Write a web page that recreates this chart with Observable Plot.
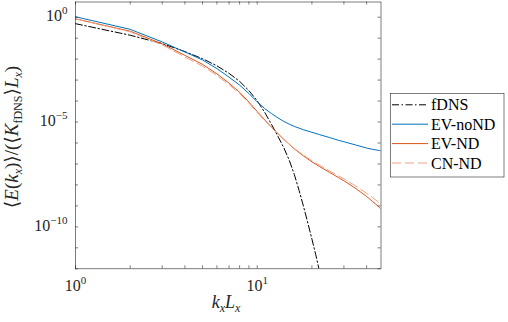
<!DOCTYPE html>
<html><head><meta charset="utf-8">
<script src="https://cdn.jsdelivr.net/npm/d3@7"></script>
<script src="https://cdn.jsdelivr.net/npm/@observablehq/plot@0.6"></script>
<style>
html,body{margin:0;padding:0;background:#fff;}
#chart{width:508px;height:322px;}
</style></head><body><div id="chart"></div>
<script>
// wavenumbers k_x L_x
const kx = [1,2,3,4,5,6,7,8,9,10,11,12,13,14,15,16,18,20,22,25,28,30,35,40,43,45,47,48];
const kxDNS = [1,2,3,4,5,6,7,8,9,10,11,12,13,14,15,16,17,18,19,20,21,22,23];
// log10 of normalised spectrum
const fDNS_log10   = [-0.31,-0.86,-1.26,-1.64,-1.98,-2.32,-2.68,-3.06,-3.50,-3.99,-4.54,-5.12,-5.68,-6.22,-6.82,-7.50,-8.26,-9.04,-9.82,-10.58,-11.33,-12.1,-12.9];
const EVnoND_log10 = [0.02,-0.58,-1.18,-1.66,-2.04,-2.45,-2.86,-3.24,-3.64,-4.04,-4.36,-4.60,-4.80,-4.97,-5.10,-5.21,-5.37,-5.49,-5.60,-5.74,-5.87,-5.94,-6.10,-6.24,-6.30,-6.33,-6.36,-6.37];
const EVND_log10   = [-0.08,-0.67,-1.27,-1.82,-2.25,-2.70,-3.15,-3.58,-4.05,-4.50,-4.90,-5.25,-5.55,-5.82,-6.06,-6.28,-6.62,-6.90,-7.12,-7.40,-7.65,-7.80,-8.18,-8.55,-8.78,-8.92,-9.07,-9.15];
const CNND_log10   = [-0.08,-0.70,-1.32,-1.90,-2.33,-2.78,-3.22,-3.64,-4.10,-4.55,-4.93,-5.27,-5.56,-5.82,-6.05,-6.26,-6.58,-6.85,-7.06,-7.33,-7.57,-7.71,-8.06,-8.40,-8.60,-8.72,-8.85,-8.93];
const seriesNames = ["fDNS","EV-noND","EV-ND","CN-ND"];
const xTickLabels = [1, 10];
const yTickLabels = [1, 1e-5, 1e-10];
const xTicks = [1,2,3,4,5,6,7,8,9,10,20,30,40];
const yTicks = [1e-12,1e-11,1e-10,1e-9,1e-8,1e-7,1e-6,1e-5,1e-4,1e-3,1e-2,1e-1,1];

const colors = {"fDNS":"#000000","EV-noND":"#0072BD","EV-ND":"#D95319","CN-ND":"#EFA384"};
const dashes = {"fDNS":"7,2.5,1.5,2.5","EV-noND":null,"EV-ND":null,"CN-ND":"9,4"};

const toRows = (ks, vals) => ks.map((k,i)=>({k, E: Math.pow(10, vals[i])}));
const data = {
  "fDNS": toRows(kxDNS, fDNS_log10),
  "EV-noND": toRows(kx, EVnoND_log10),
  "EV-ND": toRows(kx, EVND_log10),
  "CN-ND": toRows(kx, CNND_log10)
};

const W=508, H=322, mL=75, mR=127.5, mT=1.5, mB=53.7;
const plotW = W-mL-mR, plotH = H-mT-mB, tl = 3;
const axisColor = "#262626";
const serif = "'Liberation Serif', 'DejaVu Serif', serif";

const fmt = d => "10^" + Math.round(Math.log10(d));

const plot = Plot.plot({
  width: W, height: H,
  marginLeft: mL, marginRight: mR, marginTop: mT, marginBottom: mB,
  style: {fontFamily: serif, fontSize: "16px", color: axisColor, background: "white"},
  x: {type: "log", domain: [1, 48]},
  y: {type: "log", domain: [1e-12, 5.3]},
  marks: [
    ...seriesNames.map(s => Plot.line(data[s], {x: "k", y: "E", stroke: colors[s], strokeWidth: 1, strokeDasharray: dashes[s], clip: true})),
    Plot.tickX(xTicks, {x: d=>d, insetTop: plotH - tl, stroke: axisColor, strokeWidth: 0.6}),
    Plot.tickX(xTicks, {x: d=>d, insetBottom: plotH - tl, stroke: axisColor, strokeWidth: 0.6}),
    Plot.tickY(yTicks, {y: d=>d, insetRight: plotW - tl, stroke: axisColor, strokeWidth: 0.6}),
    Plot.tickY(yTicks, {y: d=>d, insetLeft: plotW - tl, stroke: axisColor, strokeWidth: 0.6}),
    Plot.frame({stroke: axisColor, strokeWidth: 0.6}),
    Plot.axisX(xTickLabels, {tickSize: 0, tickPadding: 11, tickFormat: fmt, label: null, fontSize: 16}),
    Plot.axisY(yTickLabels, {tickSize: 0, tickPadding: 8, tickFormat: fmt, label: null, fontSize: 16, dy: -1})
  ]
});
document.getElementById("chart").appendChild(plot);

const svg = d3.select(plot);
// superscripts in tick labels
svg.selectAll('g[aria-label="x-axis tick label"] text, g[aria-label="y-axis tick label"] text').each(function(){
  const t = this.textContent;
  const m = t.match(/^10\^(.+)$/);
  if (!m) return;
  this.textContent = "";
  const s = d3.select(this);
  s.append("tspan").text("10");
  s.append("tspan").attr("dy", -7).attr("font-size", 11).text(m[1].replace("-", "\u2212"));
});

// legend
const lg = svg.append("g").attr("font-family", serif).attr("font-size", 16).attr("text-anchor", "start");
lg.append("rect").attr("x", 390.5).attr("y", 93.5).attr("width", 113.5).attr("height", 83.5)
  .attr("fill", "white").attr("stroke", axisColor).attr("stroke-width", 0.6);
seriesNames.forEach((s, i) => {
  const y = 104.8 + 19.4*i;
  lg.append("line").attr("x1", 392).attr("x2", 428).attr("y1", y).attr("y2", y)
    .attr("stroke", colors[s]).attr("stroke-width", 1).attr("stroke-dasharray", dashes[s]);
  lg.append("text").attr("x", 431).attr("y", y + 5.5).attr("text-anchor", "start").attr("fill", "#000").text(s);
});

// axis labels
function addMath(textSel, parts) {
  parts.forEach(p => {
    const ts = textSel.append("tspan").text(p.t);
    if (p.i) ts.attr("font-style", "italic");
    if (p.sub) ts.attr("font-size", 12).attr("dy", 4);
    if (p.back) ts.attr("dy", -4);
  });
}
const xl = svg.append("text").attr("x", 226).attr("y", 308).attr("text-anchor", "middle")
  .attr("font-family", serif).attr("font-size", 18).attr("fill", axisColor);
addMath(xl, [{t:"k", i:1},{t:"x", i:1, sub:1},{t:"L", i:1, back:1},{t:"x", i:1, sub:1}]);

const yl = svg.append("text").attr("transform", "translate(18,137) rotate(-90)").attr("text-anchor", "middle")
  .attr("font-family", serif).attr("font-size", 19).attr("fill", axisColor);
addMath(yl, [
  {t:"\u27E8"},{t:"E", i:1},{t:"("},{t:"k", i:1},{t:"x", i:1, sub:1},{t:")", back:1},{t:"\u27E9"},{t:"/("},{t:"\u27E8"},
  {t:"K", i:1},{t:"fDNS", sub:1},{t:"\u27E9", back:1},{t:"L", i:1},{t:"x", i:1, sub:1},{t:")", back:1}
]);
</script></body></html>
